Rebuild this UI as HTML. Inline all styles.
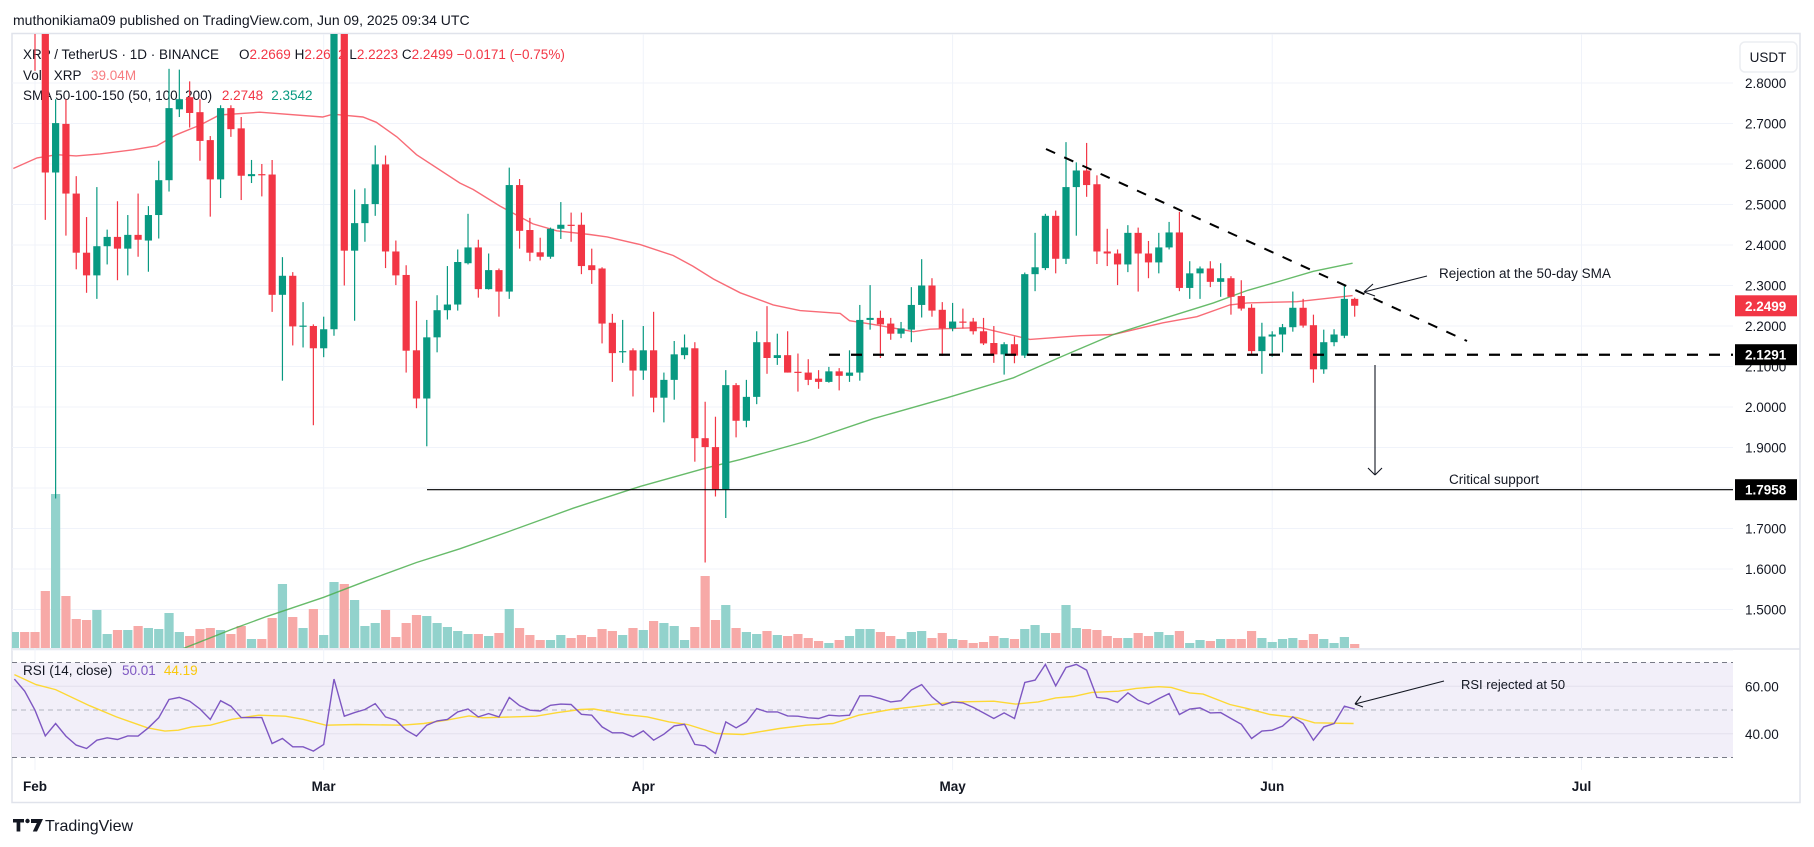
<!DOCTYPE html>
<html><head><meta charset="utf-8"><title>XRP/USDT chart</title>
<style>
html,body{margin:0;padding:0;background:#fff;}
svg{display:block;font-family:"Liberation Sans",sans-serif;}
</style></head>
<body>
<svg id="chart" xmlns="http://www.w3.org/2000/svg" width="1814" height="847" viewBox="0 0 1814 847">
  <defs>
    <clipPath id="mainClip"><rect x="12" y="34" width="1721" height="614"/></clipPath>
    <clipPath id="rsiClip"><rect x="12" y="650" width="1721" height="120"/></clipPath>
  </defs>
  <rect x="0" y="0" width="1814" height="847" fill="#ffffff"/>
  <text x="13" y="25" font-size="14" fill="#131722">muthonikiama09 published on TradingView.com, Jun 09, 2025 09:34 UTC</text>
  <rect x="12" y="33.5" width="1788" height="769" fill="none" stroke="#e0e3eb" stroke-width="1.5"/>
  <line x1="12" y1="649" x2="1800" y2="649" stroke="#e0e3eb" stroke-width="1.5"/>
  <g id="grid"></g>
  <rect x="12" y="662.5" width="1721" height="95" fill="#f2eff9"/>
  <g id="rsiGrid"></g>
  <g id="legend">
    <text x="23" y="59" font-size="13.5" fill="#131722">XRP / TetherUS · 1D · BINANCE</text>
    <text x="239" y="59" font-size="13.5" fill="#131722">O<tspan fill="#f23645">2.2669</tspan>  H<tspan fill="#f23645">2.2672</tspan>  L<tspan fill="#f23645">2.2223</tspan>  C<tspan fill="#f23645">2.2499</tspan>  <tspan fill="#f23645">−0.0171 (−0.75%)</tspan></text>
    <text x="23" y="80" font-size="13.5" fill="#131722">Vol · XRP <tspan dx="6" fill="#f77c80">39.04M</tspan></text>
    <text x="23" y="100" font-size="13.5" fill="#131722">SMA 50-100-150 (50, 100, 200) <tspan dx="6" fill="#f23645">2.2748</tspan><tspan dx="8" fill="#089981">2.3542</tspan></text>
  </g>
  <g id="volume" clip-path="url(#mainClip)"></g>
  <g id="smas" clip-path="url(#mainClip)"></g>
  <g id="candles" clip-path="url(#mainClip)"></g>
  <g id="rsi" clip-path="url(#rsiClip)"></g>
  <g id="annotations"></g>
  <g id="axis"></g>
  <g id="dates"></g>
  <text x="23" y="675" font-size="13.5" fill="#131722">RSI (14, close) <tspan dx="6" fill="#7e57c2">50.01</tspan><tspan dx="8" fill="#f9c80e">44.19</tspan></text>
  <g>
    <path d="M13 819 h11 v3.5 h-3.7 v9 h-3.7 v-9 h-3.6 z" fill="#131722"/>
    <circle cx="27.5" cy="821" r="2.2" fill="#131722"/>
    <path d="M31 819 h12 l-6 12.5 h-4.2 l4-8.5 h-5.8 z" fill="#131722"/>
    <text x="45" y="831" font-size="16" fill="#131722">TradingView</text>
  </g>
</svg>
<script>
// ---- data ----
const firstDay = -2; // Jan 30 (day 0 = Feb 1)
const opens = [3.05,3.12,3.10,2.93,2.579,2.699,2.527,2.381,2.325,2.397,2.42,2.391,2.425,2.411,2.474,2.56,2.735,2.765,2.728,2.659,2.562,2.738,2.688,2.57,2.575,2.574,2.277,2.324,2.2,2.2,2.145,2.192,2.94,2.386,2.454,2.501,2.599,2.384,2.326,2.14,2.021,2.172,2.239,2.253,2.355,2.394,2.291,2.338,2.285,2.548,2.437,2.382,2.371,2.44,2.45,2.45,2.35,2.342,2.208,2.137,2.14,2.09,2.14,2.023,2.067,2.128,2.145,1.923,1.901,1.797,2.054,1.966,2.025,2.16,2.121,2.128,2.087,2.085,2.07,2.062,2.088,2.077,2.085,2.215,2.22,2.206,2.181,2.191,2.252,2.3,2.24,2.194,2.211,2.211,2.187,2.158,2.13,2.155,2.127,2.328,2.343,2.472,2.366,2.543,2.584,2.55,2.384,2.379,2.352,2.43,2.379,2.357,2.394,2.431,2.294,2.33,2.342,2.309,2.318,2.274,2.245,2.138,2.174,2.179,2.197,2.245,2.202,2.093,2.16,2.176,2.267];
const highs = [3.15,3.18,3.12,2.96,2.76,2.76,2.57,2.469,2.543,2.438,2.508,2.474,2.527,2.496,2.608,2.835,2.833,2.804,2.76,2.669,2.745,2.745,2.716,2.61,2.6,2.61,2.37,2.333,2.259,2.204,2.223,2.99,3.0,2.537,2.54,2.646,2.621,2.411,2.35,2.262,2.215,2.276,2.348,2.389,2.477,2.413,2.379,2.342,2.591,2.563,2.467,2.418,2.443,2.506,2.48,2.48,2.391,2.345,2.23,2.215,2.145,2.2,2.235,2.085,2.163,2.179,2.16,2.013,1.976,2.091,2.059,2.067,2.187,2.249,2.181,2.187,2.132,2.118,2.091,2.099,2.096,2.14,2.252,2.301,2.238,2.22,2.21,2.296,2.365,2.318,2.259,2.257,2.243,2.22,2.22,2.2,2.16,2.174,2.332,2.43,2.477,2.485,2.654,2.604,2.652,2.572,2.44,2.389,2.449,2.443,2.41,2.43,2.457,2.482,2.36,2.347,2.36,2.355,2.323,2.313,2.254,2.208,2.187,2.205,2.285,2.267,2.228,2.191,2.192,2.299,2.27];
const lows = [3.00,3.05,2.83,2.462,1.774,2.423,2.34,2.282,2.267,2.352,2.313,2.325,2.371,2.334,2.416,2.532,2.716,2.69,2.608,2.47,2.516,2.667,2.511,2.553,2.52,2.235,2.065,2.152,2.147,1.955,2.123,2.176,2.30,2.213,2.408,2.472,2.343,2.301,2.085,1.997,1.903,2.135,2.216,2.238,2.352,2.27,2.29,2.223,2.267,2.391,2.36,2.362,2.366,2.415,2.408,2.328,2.304,2.157,2.062,2.109,2.026,2.067,1.987,1.962,2.018,2.118,1.865,1.616,1.779,1.726,1.925,1.95,2.007,2.082,2.104,2.085,2.038,2.054,2.045,2.06,2.041,2.062,2.065,2.191,2.121,2.166,2.17,2.16,2.221,2.223,2.126,2.187,2.194,2.179,2.153,2.109,2.08,2.108,2.121,2.286,2.338,2.33,2.353,2.423,2.519,2.353,2.348,2.301,2.333,2.285,2.318,2.33,2.389,2.286,2.267,2.267,2.296,2.272,2.228,2.238,2.13,2.082,2.124,2.135,2.186,2.196,2.06,2.082,2.15,2.17,2.223];
const closes = [3.12,3.10,2.93,2.579,2.701,2.527,2.381,2.325,2.397,2.42,2.391,2.425,2.413,2.474,2.56,2.738,2.76,2.726,2.657,2.562,2.738,2.686,2.571,2.575,2.572,2.277,2.324,2.199,2.201,2.145,2.192,2.94,2.386,2.454,2.501,2.599,2.384,2.325,2.139,2.021,2.172,2.239,2.253,2.358,2.394,2.291,2.338,2.285,2.548,2.435,2.381,2.371,2.44,2.45,2.449,2.348,2.338,2.206,2.133,2.138,2.09,2.14,2.023,2.067,2.13,2.147,1.923,1.901,1.797,2.054,1.966,2.025,2.16,2.121,2.128,2.085,2.085,2.067,2.062,2.088,2.077,2.085,2.215,2.22,2.204,2.181,2.194,2.252,2.3,2.238,2.194,2.211,2.209,2.187,2.157,2.13,2.155,2.127,2.328,2.345,2.472,2.366,2.543,2.584,2.548,2.384,2.379,2.352,2.43,2.379,2.357,2.394,2.431,2.294,2.33,2.342,2.309,2.318,2.272,2.243,2.138,2.174,2.179,2.197,2.245,2.201,2.093,2.16,2.179,2.267,2.25];
const volumes = [16,16,16,57,154,52,29,28,38,14,18,18,22,20,19,35,16,12,19,20,18,14,22,9,9,30,64,31,20,39,13,66,64,48,22,25,38,11,25,33,32,25,21,17,14,14,12,15,39,20,13,8,8,13,10,13,11,19,17,13,20,18,27,25,22,8,21,72,28,43,20,16,14,17,13,12,14,10,7,5,8,12,19,19,16,12,9,16,17,10,15,9,8,5,6,12,10,9,19,23,15,15,43,20,19,18,12,10,10,15,12,16,13,17,5,8,7,9,9,9,17,10,6,9,10,8,14,9,5,11,4];
const sma50Days = [-2.1,0.2,2.1,4.0,6.3,9.5,11.8,13.7,16.0,17.9,21.8,27.9,28.9,31.8,33.1,35.1,37.0,41.2,42.5,45.1,48.3,50.6,53.8,55.5,58.7,61.9,63.8,65.8,68.4,71.6,74.2,78.1,79.0,81.3,85.2,86.8,91.7,96.5,101.4,104.6,109.4,112.7,115.9,117.6,122.4,127.8];
const sma50Vals = [2.589,2.615,2.623,2.620,2.625,2.635,2.645,2.672,2.696,2.721,2.728,2.716,2.723,2.716,2.703,2.667,2.623,2.553,2.537,2.496,2.452,2.435,2.426,2.420,2.401,2.374,2.348,2.316,2.282,2.252,2.238,2.231,2.213,2.204,2.186,2.192,2.196,2.167,2.176,2.179,2.208,2.223,2.252,2.257,2.260,2.275];
const sma200Days = [14.4,19.2,22.5,28.0,32.2,37.0,41.2,45.8,52.2,58.7,65.2,68.4,74.9,81.3,88.5,94.9,99.7,104.6,109.4,114.3,117.6,120.8,124.0,127.8];
const sma200Vals = [1.404,1.452,1.483,1.530,1.571,1.616,1.650,1.691,1.750,1.804,1.850,1.870,1.916,1.971,2.023,2.072,2.126,2.179,2.218,2.257,2.288,2.311,2.335,2.355];
const rsiVals = [63.0,57.9,49.9,39.1,44.3,39.0,35.2,33.8,37.3,38.3,37.6,39.1,39.0,42.5,46.7,54.4,55.3,53.7,50.4,46.0,53.9,51.6,46.8,46.8,46.8,35.9,38.0,34.5,34.5,32.7,35.5,63.0,47.4,48.9,50.2,52.7,47.1,45.7,41.5,39.0,43.6,45.4,46.0,49.2,50.4,47.1,48.5,47.1,55.3,51.8,49.9,49.6,52.0,52.5,52.3,48.2,47.8,42.9,40.4,40.4,38.7,41.2,37.3,39.8,43.3,44.0,35.5,34.9,31.7,45.0,42.5,45.0,50.6,49.2,49.2,47.5,47.4,46.7,46.4,47.8,47.5,47.8,56.0,56.0,54.8,53.4,53.9,58.4,60.7,55.5,52.0,53.4,53.0,51.1,48.8,46.4,48.8,46.4,61.6,62.6,69.2,60.2,67.9,69.2,66.8,55.3,54.8,53.2,57.2,54.1,52.5,54.8,56.9,48.1,50.4,50.9,48.8,48.9,46.4,44.0,38.0,41.1,41.5,43.2,47.1,44.3,37.3,42.9,44.3,51.6,50.4];
const rsiMaDays = [-2.0,0.1,2.0,5.3,7.9,10.9,12.6,13.9,15.2,17.0,19.1,21.7,24.3,26.0,28.2,31.2,35.6,37.7,39.9,42.1,43.4,48.6,50.7,52.9,54.2,57.2,59.4,61.5,63.3,66.1,68.7,72.2,74.8,77.4,79.9,83.0,85.1,87.3,89.5,93.0,95.1,97.3,99.0,100.7,102.5,105.1,106.8,109.0,110.2,112.0,113.3,115.9,117.6,119.8,122.4,124.1,127.9];
const rsiMaVals = [64.9,60.7,58.6,51.8,47.1,42.5,41.1,41.5,42.9,43.6,46.1,47.8,47.4,46.1,43.6,43.9,43.6,44.3,45.7,47.5,46.7,47.4,48.9,50.2,50.4,48.1,47.1,45.0,43.9,40.1,39.7,42.2,43.6,44.3,47.8,50.2,51.3,52.5,53.4,53.7,52.5,53.4,55.1,55.7,57.4,57.9,59.1,59.8,59.5,57.2,56.7,52.3,50.6,48.1,46.8,44.6,44.3];
const priceTicks = [2.8,2.7,2.6,2.5,2.4,2.3,2.2,2.1,2.0,1.9,1.7,1.6,1.5];
const gridPrices = [2.8,2.7,2.6,2.5,2.4,2.3,2.2,2.1,2.0,1.9,1.8,1.7,1.6,1.5,1.4];
const rsiTicks = [60,40];
const monthLabels = ["Feb","Mar","Apr","May","Jun","Jul"];
const monthDays = [0,28,59,89,120,150];
const lastPrice = 2.2499;
const supportLevel = 2.1291;
const criticalLevel = 1.7958;

// ---- scales ----
const NS = "http://www.w3.org/2000/svg";
const X = d => 35 + d * 10.31;
const Y = p => 83 + (2.8 - p) * 405;
const YR = r => 710 - (r - 50) * 2.375;
const VOL_BASE = 648, VOL_K = 1;
function mk(tag, attrs, parent) {
  const e = document.createElementNS(NS, tag);
  for (const k in attrs) e.setAttribute(k, attrs[k]);
  parent.appendChild(e);
  return e;
}
const G = id => document.getElementById(id);

// grid
const grid = G('grid');
gridPrices.forEach(p => {
  const l = mk('line', {x1: 12, x2: 1733, y1: Y(p), y2: Y(p), stroke: '#f0f3fa', 'stroke-width': 1}, grid);
  
  
});
monthDays.forEach(d => {
  const l = mk('line', {x1: X(d), x2: X(d), y1: 34, y2: 770, stroke: '#f0f3fa', 'stroke-width': 1}, grid);
  
  
});
const rg = G('rsiGrid');
rsiTicks.forEach(r => {
  const l = mk('line', {x1: 12, x2: 1733, y1: YR(r), y2: YR(r), stroke: '#e3e0ee', 'stroke-width': 1}, rg);
  
  
});
[70, 50, 30].forEach(r => {
  const l = mk('line', {x1: 12, x2: 1733, y1: YR(r), y2: YR(r), stroke: r === 50 ? '#b2b5be' : '#787b86', 'stroke-width': 1, 'stroke-dasharray': '5 4'}, rg);
  
  
});

// volume
const vg = G('volume');
volumes.forEach((v, i) => {
  const d = firstDay + i;
  const up = closes[i] >= opens[i];
  const h = v * VOL_K;
  const r = mk('rect', {x: X(d) - 4.6, y: VOL_BASE - h, width: 9.2, height: h, fill: up ? '#92d2cc' : '#f7a9a7'}, vg);
  
  
});

// SMAs
function linePath(days, vals, yf) {
  return days.map((d, i) => (i ? 'L' : 'M') + X(d).toFixed(1) + ' ' + yf(vals[i]).toFixed(1)).join(' ');
}
const sg = G('smas');
const s50 = mk('path', {d: linePath(sma50Days, sma50Vals, Y), fill: 'none', stroke: '#f7525f', 'stroke-opacity': 0.85, 'stroke-width': 1.4}, sg);


const s200 = mk('path', {d: linePath(sma200Days, sma200Vals, Y), fill: 'none', stroke: '#4caf50', 'stroke-opacity': 0.85, 'stroke-width': 1.4}, sg);



// candles
const cg = G('candles');
opens.forEach((o, i) => {
  const d = firstDay + i, c = closes[i];
  const up = c >= o;
  const col = up ? '#089981' : '#f23645';
  const x = X(d);
  const w = mk('line', {x1: x, x2: x, y1: Y(highs[i]), y2: Y(lows[i]), stroke: col, 'stroke-width': 1.2}, cg);
  
  
  const top = Y(Math.max(o, c)), bot = Y(Math.min(o, c));
  const b = mk('rect', {x: x - 3.6, y: top, width: 7.2, height: Math.max(1.2, bot - top), fill: col}, cg);
  
  
});

// RSI
const rsg = G('rsi');
const rsiDays = rsiVals.map((v, i) => firstDay + i);
const rma = mk('path', {d: linePath(rsiMaDays, rsiMaVals, YR), fill: 'none', stroke: '#fdd835', 'stroke-width': 1.4}, rsg);


const rl = mk('path', {d: linePath(rsiDays, rsiVals, YR), fill: 'none', stroke: '#7e57c2', 'stroke-width': 1.4}, rsg);



// annotations
const ag = G('annotations');
const sup = mk('line', {x1: 829, x2: 1733, y1: Y(supportLevel), y2: Y(supportLevel), stroke: '#000', 'stroke-width': 2.2, 'stroke-dasharray': '11 11'}, ag);


const crit = mk('line', {x1: 427, x2: 1733, y1: Y(criticalLevel), y2: Y(criticalLevel), stroke: '#000', 'stroke-width': 1.2}, ag);


const tl = mk('line', {x1: 1046, y1: 149, x2: 1467, y2: 341, stroke: '#000', 'stroke-width': 2, 'stroke-dasharray': '10 10'}, ag);


const a1 = mk('path', {d: 'M1427 276 L1364 292 M1364 292 L1373 284 M1364 292 L1375 296', fill: 'none', stroke: '#131722', 'stroke-width': 1.1}, ag);


const t1 = mk('text', {x: 1439, y: 278, 'font-size': 13.5, fill: '#131722'}, ag);
t1.textContent = 'Rejection at the 50-day SMA';


const a2 = mk('path', {d: 'M1375 365 L1375 475 M1375 475 L1368 468 M1375 475 L1382 468', fill: 'none', stroke: '#131722', 'stroke-width': 1.1}, ag);


const t2 = mk('text', {x: 1449, y: 484, 'font-size': 13.5, fill: '#131722'}, ag);
t2.textContent = 'Critical support';


const a3 = mk('path', {d: 'M1444 681 L1355 704 M1355 704 L1361 696 M1355 704 L1363 707', fill: 'none', stroke: '#131722', 'stroke-width': 1.1}, ag);


const t3 = mk('text', {x: 1461, y: 689, 'font-size': 13, fill: '#131722'}, ag);
t3.textContent = 'RSI rejected at 50';



// price axis
const ax = G('axis');
const ub = mk('rect', {x: 1740, y: 42, width: 57, height: 30, rx: 5, fill: '#fff', stroke: '#eceef2', 'stroke-width': 1.5}, ax);


const ut = mk('text', {x: 1768, y: 62, 'font-size': 13.5, fill: '#131722', 'text-anchor': 'middle'}, ax);
ut.textContent = 'USDT';


priceTicks.forEach(p => {
  const t = mk('text', {x: 1745, y: Y(p) + 5, 'font-size': 13.5, fill: '#131722'}, ax);
  t.textContent = p.toFixed(4);
  
  
});
[[lastPrice, '#f23645'], [supportLevel, '#000'], [criticalLevel, '#000']].forEach(([p, col]) => {
  const y = Y(p);
  const r = mk('rect', {x: 1735, y: y - 10.5, width: 62, height: 21, fill: col}, ax);
  
  
  const t = mk('text', {x: 1745, y: y + 5, 'font-size': 13.5, fill: '#fff', 'font-weight': 'bold'}, ax);
  t.textContent = p.toFixed(4);
  
  
});
rsiTicks.forEach(r => {
  const t = mk('text', {x: 1745, y: YR(r) + 5, 'font-size': 13.5, fill: '#131722'}, ax);
  t.textContent = r.toFixed(2);
  
  
});

// dates
const dg = G('dates');
monthLabels.forEach((m, i) => {
  const t = mk('text', {x: X(monthDays[i]), y: 791, 'font-size': 13.5, 'font-weight': 'bold', fill: '#131722', 'text-anchor': 'middle'}, dg);
  t.textContent = m;
  
  
});
</script>
</body></html>
